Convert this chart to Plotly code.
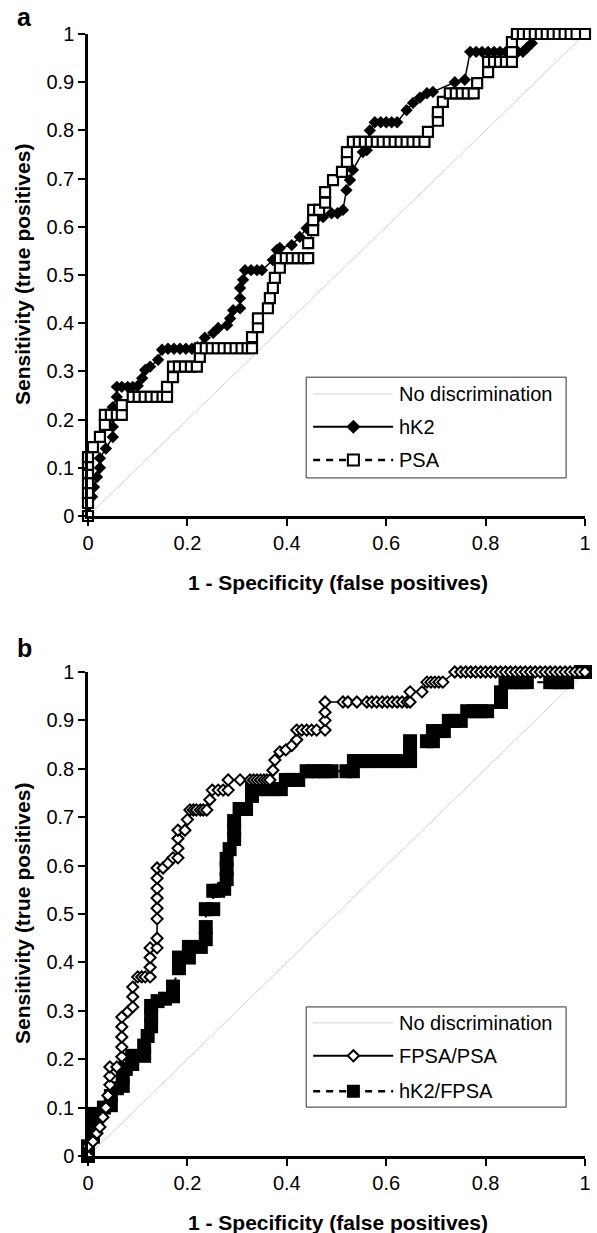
import plotly.graph_objects as go

FONT = "Liberation Sans, Arial, sans-serif"

# ---------------- data ----------------
x_ticks = [0, 0.2, 0.4, 0.6, 0.8, 1]
x_tick_labels = ["0", "0.2", "0.4", "0.6", "0.8", "1"]
y_ticks = [0, 0.1, 0.2, 0.3, 0.4, 0.5, 0.6, 0.7, 0.8, 0.9, 1]
y_tick_labels = ["0", "0.1", "0.2", "0.3", "0.4", "0.5", "0.6", "0.7", "0.8", "0.9", "1"]

diag_x = [0, 1]
diag_y = [0, 1]

# Panel a : hK2 (filled diamonds)
hk2_x = [0, 0, 0.008, 0.012, 0.018, 0.024, 0.024, 0.036, 0.05, 0.05, 0.05, 0.05, 0.058, 0.058,
         0.068, 0.08, 0.09, 0.1, 0.109, 0.115, 0.125, 0.141, 0.149, 0.161, 0.173, 0.185, 0.197,
         0.209, 0.22, 0.235, 0.252, 0.262, 0.28, 0.286, 0.292, 0.306, 0.306, 0.306, 0.312, 0.316,
         0.328, 0.34, 0.35, 0.372, 0.38, 0.386, 0.41, 0.426, 0.44, 0.457, 0.473, 0.49, 0.502,
         0.513, 0.52, 0.527, 0.533, 0.553, 0.561, 0.567, 0.577, 0.589, 0.6, 0.611, 0.622, 0.641,
         0.654, 0.668, 0.682, 0.694, 0.738, 0.758, 0.769, 0.781, 0.793, 0.805, 0.817, 0.829,
         0.841, 0.853, 0.865, 0.875, 0.883, 0.893, 0.9, 0.92, 0.94, 0.96, 0.98, 1.0]
hk2_y = [0, 0.02, 0.04, 0.06, 0.081, 0.10, 0.12, 0.14, 0.164, 0.185, 0.205, 0.226, 0.247, 0.268,
         0.268, 0.268, 0.268, 0.27, 0.286, 0.303, 0.31, 0.324, 0.345, 0.347, 0.347, 0.347, 0.347,
         0.347, 0.35, 0.37, 0.38, 0.39, 0.396, 0.41, 0.427, 0.431, 0.452, 0.473, 0.49, 0.51,
         0.51, 0.51, 0.51, 0.531, 0.552, 0.556, 0.562, 0.579, 0.597, 0.614, 0.62, 0.628, 0.628,
         0.635, 0.676, 0.697, 0.718, 0.755, 0.759, 0.80, 0.817, 0.817, 0.817, 0.817, 0.817, 0.842,
         0.857, 0.868, 0.877, 0.88, 0.90, 0.905, 0.963, 0.963, 0.963, 0.963, 0.963, 0.963,
         0.963, 0.963, 0.963, 0.963, 0.971, 0.981, 1.0, 1.0, 1.0, 1.0, 1.0, 1.0]

# Panel a : PSA (open squares)
psa_x = [0, 0, 0, 0, 0, 0, 0, 0.01, 0.024, 0.034, 0.034, 0.046, 0.058, 0.068, 0.068, 0.09,
         0.102, 0.114, 0.126, 0.138, 0.15, 0.159, 0.159, 0.171, 0.171, 0.183, 0.195, 0.207,
         0.219, 0.225, 0.225, 0.237, 0.249, 0.261, 0.273, 0.285, 0.297, 0.309, 0.321, 0.33,
         0.33, 0.342, 0.342, 0.362, 0.366, 0.372, 0.376, 0.386, 0.386, 0.398, 0.41, 0.422,
         0.434, 0.443, 0.443, 0.453, 0.453, 0.453, 0.465, 0.477, 0.477, 0.493, 0.511, 0.521,
         0.521, 0.533, 0.545, 0.557, 0.569, 0.581, 0.593, 0.605, 0.617, 0.629, 0.641, 0.653,
         0.665, 0.677, 0.684, 0.704, 0.704, 0.714, 0.728, 0.74, 0.752, 0.764, 0.776, 0.783,
         0.805, 0.805, 0.817, 0.829, 0.841, 0.853, 0.853, 0.853, 0.863, 0.875, 0.887, 0.899,
         0.911, 0.923, 0.935, 0.947, 0.959, 0.971, 0.983, 1.0]
psa_y = [0, 0.027, 0.048, 0.068, 0.089, 0.106, 0.122, 0.143, 0.164, 0.189, 0.21, 0.21, 0.21,
         0.21, 0.23, 0.247, 0.247, 0.247, 0.247, 0.247, 0.247, 0.247, 0.268, 0.288, 0.31, 0.31,
         0.31, 0.31, 0.31, 0.33, 0.348, 0.348, 0.348, 0.348, 0.348, 0.348, 0.348, 0.348, 0.348,
         0.348, 0.371, 0.392, 0.41, 0.431, 0.452, 0.473, 0.494, 0.515, 0.535, 0.535, 0.535,
         0.535, 0.535, 0.535, 0.566, 0.593, 0.614, 0.635, 0.635, 0.65, 0.672, 0.697, 0.714,
         0.735, 0.755, 0.776, 0.776, 0.776, 0.776, 0.776, 0.776, 0.776, 0.776, 0.776, 0.776,
         0.776, 0.776, 0.776, 0.797, 0.82, 0.838, 0.859, 0.877, 0.877, 0.877, 0.877, 0.877,
         0.898, 0.921, 0.942, 0.942, 0.942, 0.942, 0.942, 0.963, 0.983, 1.0, 1.0, 1.0, 1.0,
         1.0, 1.0, 1.0, 1.0, 1.0, 1.0, 1.0, 1.0]

# Panel b : FPSA/PSA (open diamonds)
fpsa_psa_x = [0, 0, 0.01, 0.018, 0.024, 0.03, 0.036, 0.04, 0.044, 0.044, 0.044, 0.058, 0.068,
              0.068, 0.068, 0.068, 0.068, 0.08, 0.09, 0.09, 0.09, 0.1, 0.108, 0.115, 0.125,
              0.125, 0.125, 0.125, 0.139, 0.139, 0.139, 0.139, 0.139, 0.139, 0.139, 0.139,
              0.151, 0.161, 0.171, 0.181, 0.181, 0.181, 0.181, 0.195, 0.2, 0.205, 0.212, 0.218,
              0.226, 0.232, 0.239, 0.245, 0.25, 0.262, 0.272, 0.282, 0.282, 0.306, 0.326, 0.333,
              0.34, 0.347, 0.354, 0.36, 0.366, 0.372, 0.376, 0.386, 0.398, 0.41, 0.42, 0.42,
              0.43, 0.44, 0.45, 0.46, 0.477, 0.477, 0.477, 0.477, 0.513, 0.523, 0.541, 0.561,
              0.571, 0.581, 0.592, 0.602, 0.612, 0.622, 0.632, 0.642, 0.648, 0.648, 0.672,
              0.682, 0.69, 0.698, 0.706, 0.714, 0.738, 0.75, 0.76, 0.77, 0.78, 0.79, 0.80, 0.81,
              0.82, 0.83, 0.84, 0.85, 0.86, 0.87, 0.88, 0.89, 0.90, 0.91, 0.92, 0.93, 0.94,
              0.95, 0.96, 0.97, 0.98, 0.99, 1.0]
fpsa_psa_y = [0, 0.02, 0.03, 0.047, 0.06, 0.08, 0.1, 0.125, 0.147, 0.165, 0.184, 0.184, 0.205,
              0.225, 0.246, 0.267, 0.287, 0.298, 0.308, 0.329, 0.349, 0.37, 0.37, 0.37, 0.37,
              0.39, 0.41, 0.43, 0.43, 0.45, 0.49, 0.512, 0.533, 0.553, 0.574, 0.595,
              0.595, 0.605, 0.616, 0.616, 0.636, 0.656, 0.673, 0.673, 0.695, 0.715, 0.715, 0.715,
              0.715, 0.715, 0.715, 0.736, 0.756, 0.756, 0.756, 0.756, 0.777, 0.777, 0.777, 0.777,
              0.777, 0.777, 0.777, 0.777, 0.777, 0.797, 0.818, 0.835, 0.839, 0.848, 0.86, 0.88,
              0.88, 0.88, 0.88, 0.88, 0.88, 0.9, 0.917, 0.938, 0.938, 0.938, 0.938, 0.938,
              0.938, 0.938, 0.938, 0.938, 0.938, 0.938, 0.938, 0.938, 0.938, 0.959, 0.959,
              0.979, 0.979, 0.979, 0.979, 0.979, 1.0, 1.0, 1.0, 1.0, 1.0, 1.0, 1.0, 1.0,
              1.0, 1.0, 1.0, 1.0, 1.0, 1.0, 1.0, 1.0, 1.0, 1.0, 1.0, 1.0, 1.0,
              1.0, 1.0, 1.0, 1.0, 1.0, 1.0]

# Panel b : hK2/FPSA (filled squares)
hk2_fpsa_x = [0, 0, 0.01, 0.01, 0.012, 0.032, 0.046, 0.046, 0.058, 0.07, 0.07, 0.076, 0.089,
              0.089, 0.113, 0.113, 0.12, 0.127, 0.127, 0.127, 0.14, 0.155, 0.171, 0.171, 0.183,
              0.183, 0.203, 0.203, 0.227, 0.237, 0.237, 0.237, 0.252, 0.252, 0.262, 0.274,
              0.279, 0.279, 0.279, 0.285, 0.294, 0.294, 0.294, 0.305, 0.318, 0.33, 0.33, 0.345,
              0.36, 0.375, 0.388, 0.398, 0.41, 0.423, 0.44, 0.452, 0.464, 0.476, 0.49, 0.52,
              0.533, 0.535, 0.548, 0.56, 0.572, 0.585, 0.6, 0.614, 0.628, 0.648, 0.648, 0.648,
              0.682, 0.694, 0.694, 0.705, 0.716, 0.726, 0.738, 0.75, 0.763, 0.776, 0.79, 0.803,
              0.831, 0.831, 0.84, 0.85, 0.862, 0.872, 0.883, 0.93, 0.942, 0.953, 0.964, 0.992,
              1.0]
hk2_fpsa_y = [0, 0.02, 0.04, 0.06, 0.087, 0.1, 0.105, 0.124, 0.14, 0.145, 0.165, 0.18, 0.19,
              0.207, 0.207, 0.228, 0.248, 0.268, 0.29, 0.31, 0.32, 0.325, 0.33, 0.35, 0.388,
              0.41, 0.41, 0.432, 0.432, 0.448, 0.473, 0.51, 0.51, 0.548, 0.548, 0.552,
              0.572, 0.593, 0.614, 0.634, 0.655, 0.675, 0.692, 0.717, 0.717, 0.744, 0.758, 0.758,
              0.758, 0.758, 0.758, 0.777, 0.777, 0.777, 0.795, 0.795, 0.795, 0.795, 0.795, 0.795,
              0.795, 0.816, 0.816, 0.816, 0.816, 0.816, 0.816, 0.816, 0.816, 0.816, 0.836, 0.857,
              0.857, 0.857, 0.878, 0.878, 0.878, 0.899, 0.899, 0.899, 0.919, 0.919, 0.919, 0.919,
              0.938, 0.958, 0.979, 0.979, 0.979, 0.979, 0.979, 0.979, 0.979, 0.979, 0.979, 1.0,
              1.0]

# ---------------- figure ----------------
FIG_W, FIG_H = 597, 1233
PL, PR, PT, PB = 88, 585, 34, 1156      # plot-area edges in page pixels

fig = go.Figure()

# panel a
fig.add_trace(go.Scatter(x=diag_x, y=diag_y, mode="lines", xaxis="x", yaxis="y",
                         line=dict(color="#d0d0d0", width=1), showlegend=False))
fig.add_trace(go.Scatter(x=hk2_x, y=hk2_y, mode="lines+markers", xaxis="x", yaxis="y",
                         line=dict(color="black", width=1.5),
                         marker=dict(symbol="diamond", size=9.5, color="black"),
                         cliponaxis=False, showlegend=False))
fig.add_trace(go.Scatter(x=psa_x, y=psa_y, mode="lines+markers", xaxis="x", yaxis="y",
                         line=dict(color="black", width=2, dash="7px,6px"),
                         marker=dict(symbol="square", size=10, color="white",
                                     line=dict(color="black", width=2.2)),
                         cliponaxis=False, showlegend=False))
# panel b
fig.add_trace(go.Scatter(x=diag_x, y=diag_y, mode="lines", xaxis="x2", yaxis="y2",
                         line=dict(color="#d0d0d0", width=1), showlegend=False))
fig.add_trace(go.Scatter(x=hk2_fpsa_x, y=hk2_fpsa_y, mode="lines+markers", xaxis="x2", yaxis="y2",
                         line=dict(color="black", width=2, dash="7px,6px"),
                         marker=dict(symbol="square", size=14, color="black"),
                         cliponaxis=False, showlegend=False))
fig.add_trace(go.Scatter(x=fpsa_psa_x, y=fpsa_psa_y, mode="lines+markers", xaxis="x2", yaxis="y2",
                         line=dict(color="black", width=1.5),
                         marker=dict(symbol="diamond", size=8.5, color="white",
                                     line=dict(color="black", width=2)),
                         cliponaxis=False, showlegend=False))

axis_common = dict(range=[0, 1], showline=True, linecolor="black", linewidth=2.5,
                   ticks="outside", ticklen=7, tickwidth=2, tickcolor="black",
                   showgrid=False, zeroline=False, fixedrange=True,
                   tickfont=dict(family=FONT, size=20, color="black"))

H = PB - PT
W = PR - PL


def pfy(py):
    return (PB - py) / H


def pfx(px):
    return (px - PL) / W


fig.update_layout(
    width=FIG_W, height=FIG_H,
    margin=dict(l=PL, r=FIG_W - PR, t=PT, b=FIG_H - PB, autoexpand=False),
    paper_bgcolor="white", plot_bgcolor="white",
    font=dict(family=FONT, color="black"),
    hovermode=False,
    xaxis=dict(axis_common, domain=[0, 1], anchor="y", tickvals=x_ticks, ticktext=x_tick_labels),
    yaxis=dict(axis_common, domain=[pfy(516), 1], anchor="x", tickvals=y_ticks, ticktext=y_tick_labels),
    xaxis2=dict(axis_common, domain=[0, 1], anchor="y2", tickvals=x_ticks, ticktext=x_tick_labels),
    yaxis2=dict(axis_common, domain=[0, pfy(672)], anchor="x2", tickvals=y_ticks, ticktext=y_tick_labels),
)

annotations = []
shapes = []

XT = "1 - Specificity (false positives)"
YT = "Sensitivity (true positives)"
title_font = dict(family=FONT, size=21, color="black")

for letter, py_letter, py_xt, py_mid in [("a", 17, 582, 275), ("b", 648, 1222, 914)]:
    annotations.append(dict(text="<b>%s</b>" % letter, xref="paper", yref="paper",
                            x=pfx(15), y=pfy(py_letter), xanchor="left", yanchor="middle",
                            showarrow=False, font=dict(family=FONT, size=25, color="black")))
    annotations.append(dict(text="<b>%s</b>" % XT, xref="paper", yref="paper",
                            x=pfx(338), y=pfy(py_xt), xanchor="center", yanchor="middle",
                            showarrow=False, font=title_font))
    annotations.append(dict(text="<b>%s</b>" % YT, xref="paper", yref="paper",
                            x=pfx(22), y=pfy(py_mid), xanchor="center", yanchor="middle",
                            textangle=-90, showarrow=False, font=title_font))


def add_legend(xr, yr, y_top, y_bot, rows):
    # pixel scale of one data unit
    sx, sy = 497.0, (482.0 if yr == "y" else 484.0)
    shapes.append(dict(type="rect", xref=xr, yref=yr, x0=0.439, x1=0.962, y0=y_bot, y1=y_top,
                       line=dict(color="#333333", width=1), fillcolor="white", layer="above"))
    for label, yv, lstyle, mstyle in rows:
        shapes.append(dict(type="line", xref=xr, yref=yr, x0=0.453, x1=0.614, y0=yv, y1=yv,
                           line=lstyle, layer="above"))
        if mstyle is not None:
            kind, fill, half = mstyle
            cx = 0.534
            dx, dy = half / sx, half / sy
            if kind == "diamond":
                dx, dy = 1.25 * dx, 1.25 * dy
                path = "M %f %f L %f %f L %f %f L %f %f Z" % (cx - dx, yv, cx, yv + dy, cx + dx, yv,
                                                            cx, yv - dy)
                shapes.append(dict(type="path", xref=xr, yref=yr, path=path, fillcolor=fill,
                                   line=dict(color="black", width=2), layer="above"))
            else:
                shapes.append(dict(type="rect", xref=xr, yref=yr, x0=cx - dx, x1=cx + dx,
                                   y0=yv - dy, y1=yv + dy, fillcolor=fill,
                                   line=dict(color="black", width=2), layer="above"))
        annotations.append(dict(text=label, xref=xr, yref=yr, x=0.622, y=yv, xanchor="left",
                                yanchor="middle", showarrow=False,
                                font=dict(family=FONT, size=20, color="black")))


add_legend("x", "y", 0.288, 0.079, [
    ("No discrimination", 0.253, dict(color="#d0d0d0", width=1), None),
    ("hK2", 0.185, dict(color="black", width=2), ("diamond", "black", 4.5)),
    ("PSA", 0.116, dict(color="black", width=2.5, dash="7px,6px"), ("square", "white", 5.5)),
])
add_legend("x2", "y2", 0.308, 0.101, [
    ("No discrimination", 0.275, dict(color="#d0d0d0", width=1), None),
    ("FPSA/PSA", 0.207, dict(color="black", width=2), ("diamond", "white", 4.5)),
    ("hK2/FPSA", 0.134, dict(color="black", width=2.5, dash="7px,6px"), ("square", "black", 5.5)),
])

fig.update_layout(annotations=annotations, shapes=shapes)
# remove the browser's default 8px body margin so the figure fills the window exactly
fig.write_html("out.html", config={"displayModeBar": False},
               post_script="document.body.style.margin='0px';")
